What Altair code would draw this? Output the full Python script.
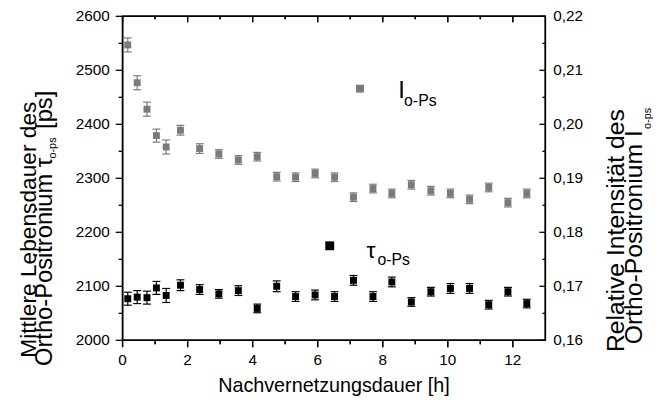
import altair as alt
import pandas as pd

# ---------------- data ----------------
hours = [0.16, 0.45, 0.75, 1.04, 1.34, 1.78, 2.37, 2.96, 3.56, 4.14, 4.74, 5.32,
         5.92, 6.52, 7.10, 7.70, 8.28, 8.88, 9.48, 10.08, 10.67, 11.26, 11.85, 12.43]
tau_ps = [2077, 2080, 2079, 2097, 2083, 2102, 2094, 2086, 2092, 2059, 2100, 2081,
          2084, 2081, 2111, 2081, 2108, 2071, 2090, 2096, 2096, 2066, 2090, 2068]
tau_err = [12, 12, 12, 12, 13, 10, 9, 8, 9, 8, 10, 9,
           9, 9, 9, 9, 9, 8, 8, 9, 9, 8, 8, 8]
intensity = [0.2147, 0.2077, 0.2028, 0.1979, 0.1958, 0.1989, 0.1955, 0.1945, 0.1934, 0.1940, 0.1903, 0.1902,
             0.1909, 0.1902, 0.1865, 0.1881, 0.1872, 0.1888, 0.1877, 0.1872, 0.1861, 0.1883, 0.1855, 0.1872]
intensity_err = [0.0013, 0.0013, 0.0013, 0.0012, 0.0013, 0.0009, 0.0009, 0.0008, 0.0008, 0.0008, 0.0008, 0.0008,
                 0.0008, 0.0008, 0.0008, 0.0008, 0.0008, 0.0008, 0.0008, 0.0008, 0.0008, 0.0008, 0.0008, 0.0008]

x_major = [0, 2, 4, 6, 8, 10, 12]
x_minor = [1, 3, 5, 7, 9, 11]
tau_major = [2000, 2100, 2200, 2300, 2400, 2500, 2600]
tau_minor = [2050, 2150, 2250, 2350, 2450, 2550]
int_major = [0.16, 0.17, 0.18, 0.19, 0.20, 0.21, 0.22]
int_minor = [0.165, 0.175, 0.185, 0.195, 0.205, 0.215]

legend_tau_x, legend_tau_y = [6.37], [2175]
legend_int_x, legend_int_y = [7.30], [0.2066]

X0, X1 = 0, 13
T0, T1 = 2000, 2600
I0, I1 = 0.16, 0.22

df = pd.DataFrame({
    "h": hours,
    "tau": tau_ps,
    "tau_lo": [t - e for t, e in zip(tau_ps, tau_err)],
    "tau_hi": [t + e for t, e in zip(tau_ps, tau_err)],
    "I": intensity,
    "I_lo": [v - e for v, e in zip(intensity, intensity_err)],
    "I_hi": [v + e for v, e in zip(intensity, intensity_err)],
})
leg_tau = pd.DataFrame({"h": legend_tau_x, "tau": legend_tau_y})
leg_int = pd.DataFrame({"h": legend_int_x, "I": legend_int_y})
one = pd.DataFrame({"a": [0]})

FONT = "Liberation Sans"
W, H = 428, 328
GRAY = "#7b7b7b"
LW = 1.3

xs = alt.Scale(domain=[X0, X1], nice=False, zero=False)
ts = alt.Scale(domain=[T0, T1], nice=False, zero=False)


def to_left(field):
    # intensity axis (right) mapped linearly onto the lifetime scale (left)
    k = (T1 - T0) / (I1 - I0)
    return f"{T0} + (datum.{field} - {I0}) * {k}"


X = lambda f: alt.X(f"{f}:Q", scale=xs, axis=None)
Y = lambda f: alt.Y(f"{f}:Q", scale=ts, axis=None)

# ---- black series (tau, left axis) ----
black_err = alt.Chart(df).mark_rule(color="black", strokeWidth=1.2).encode(
    x=X("h"), y=Y("tau_lo"), y2="tau_hi:Q")
black_cap_lo = alt.Chart(df).mark_tick(color="black", orient="horizontal", size=8, thickness=1.2, opacity=1).encode(
    x=X("h"), y=Y("tau_lo"))
black_cap_hi = alt.Chart(df).mark_tick(color="black", orient="horizontal", size=8, thickness=1.2, opacity=1).encode(
    x=X("h"), y=Y("tau_hi"))
black_pts = alt.Chart(df).mark_square(size=49, color="black", opacity=1).encode(x=X("h"), y=Y("tau"))

# ---- gray series (intensity, right axis) ----
gbase = alt.Chart(df).transform_calculate(
    i_mid=to_left("I"), i_lo=to_left("I_lo"), i_hi=to_left("I_hi"))
gray_err = gbase.mark_rule(color=GRAY, strokeWidth=1.2).encode(x=X("h"), y=Y("i_lo"), y2="i_hi:Q")
gray_cap_lo = gbase.mark_tick(color=GRAY, orient="horizontal", size=8, thickness=1.2, opacity=1).encode(
    x=X("h"), y=Y("i_lo"))
gray_cap_hi = gbase.mark_tick(color=GRAY, orient="horizontal", size=8, thickness=1.2, opacity=1).encode(
    x=X("h"), y=Y("i_hi"))
gray_pts = gbase.mark_square(size=49, color=GRAY, opacity=1).encode(x=X("h"), y=Y("i_mid"))

# ---- legend squares ----
gray_leg = alt.Chart(leg_int).transform_calculate(i_mid=to_left("I")).mark_square(
    size=64, color=GRAY, opacity=1).encode(x=X("h"), y=Y("i_mid"))
black_leg = alt.Chart(leg_tau).mark_square(size=81, color="black", opacity=1).encode(
    x=X("h"), y=Y("tau"))


# ---- tick marks ----
def xticks(values, y0, y1):
    d = pd.DataFrame({"v": values})
    r = alt.Chart(d).mark_rule(color="black", strokeWidth=LW).encode(
        x=X("v"), y=alt.value(y0), y2=alt.value(y1))
    t = alt.Chart(d).mark_tick(color="black", orient="vertical", size=abs(y1 - y0),
                               thickness=LW, opacity=1).encode(
        x=X("v"), y=alt.value((y0 + y1) / 2))
    return [r, t]


def yticks(values, x0, x1, right=False):
    c = alt.Chart(pd.DataFrame({"v": values}))
    f = "v"
    if right:
        c = c.transform_calculate(w=to_left("v"))
        f = "w"
    return [c.mark_rule(color="black", strokeWidth=LW).encode(
        y=Y(f), x=alt.value(x0), x2=alt.value(x1))]


ticks = (
    xticks(x_major, H, H + 7) + xticks(x_minor, H, H + 4)
    + xticks(x_major, 0, 6) + xticks(x_minor, 0, 3)
    + yticks(tau_major, -7, 0) + yticks(tau_minor, -4, 0)
    + yticks(int_major, W - 6, W, right=True) + yticks(int_minor, W - 3, W, right=True)
)


# ---- frame ----
def frame_line(x0, x1, y0, y1):
    return alt.Chart(one).mark_rule(color="black", strokeWidth=1.5).encode(
        x=alt.value(x0), x2=alt.value(x1), y=alt.value(y0), y2=alt.value(y1))


frame = [frame_line(0, W, 0, 0), frame_line(0, W, H, H), frame_line(0, 0, 0, H), frame_line(W, W, 0, H)]

# ---- tick labels ----
bottom_labels = alt.Chart(pd.DataFrame({"v": x_major, "lab": [str(v) for v in x_major]})).mark_text(
    font=FONT, fontSize=15.5, color="black", align="center", baseline="top").encode(
    x=X("v"), y=alt.value(H + 13), text="lab:N")
left_labels = alt.Chart(pd.DataFrame({"v": tau_major, "lab": [str(v) for v in tau_major]})).mark_text(
    font=FONT, fontSize=15.5, color="black", align="right", baseline="middle").encode(
    y=Y("v"), x=alt.value(-13), text="lab:N")
right_labels = alt.Chart(pd.DataFrame({"v": int_major})).transform_calculate(
    w=to_left("v"), lab="replace(format(datum.v, '.2f'), '.', ',')"
).mark_text(font=FONT, fontSize=15.5, color="black", align="left", baseline="middle").encode(
    y=Y("w"), x=alt.value(W + 8), text="lab:N")


def txt(text, x, y, size, angle=0, align="left", baseline="alphabetic"):
    kw = dict(font=FONT, fontSize=size, color="black", align=align, baseline=baseline)
    if angle:
        kw["angle"] = angle
    return alt.Chart(one).mark_text(**kw).encode(
        x=alt.value(x), y=alt.value(y), text=alt.value(text))


texts = [
    txt("I", 279, 83, 24),
    txt("o-Ps", 285, 91, 16),
    txt("τ", 247, 245, 23),
    txt("o-Ps", 258, 252, 16),
    txt("Nachvernetzungsdauer [h]", W / 2, 380, 20, align="center"),
    txt("Mittlere Lebensdauer des", -87.5, 216, 23, angle=270, align="center"),
    txt("Ortho-Positronium τ", -71.5, 354, 24, angle=270, align="left"),
    txt("o-ps", -67, 144, 11, angle=270, align="left"),
    txt("[ps]", -71.5, 114, 24, angle=270, align="left"),
    txt("Relative Intensität des", 508, 217, 25, angle=270, align="center"),
    txt("Ortho-Positronium I", 526, 332, 25, angle=270, align="left"),
    txt("o-ps", 535, 114, 11, angle=270, align="left"),
]

chart = alt.layer(
    black_err, black_cap_lo, black_cap_hi,
    gray_err, gray_cap_lo, gray_cap_hi,
    black_pts, gray_pts, gray_leg, black_leg,
    *ticks, *frame, bottom_labels, left_labels, right_labels, *texts,
).properties(
    width=W, height=H,
    padding={"left": 116, "top": 6, "right": 109, "bottom": 55},
    autosize=alt.AutoSizeParams(type="none"),
).configure_view(stroke="black", strokeWidth=1.5)

chart.save("out.html", embed_options={"renderer": "svg", "actions": False})
